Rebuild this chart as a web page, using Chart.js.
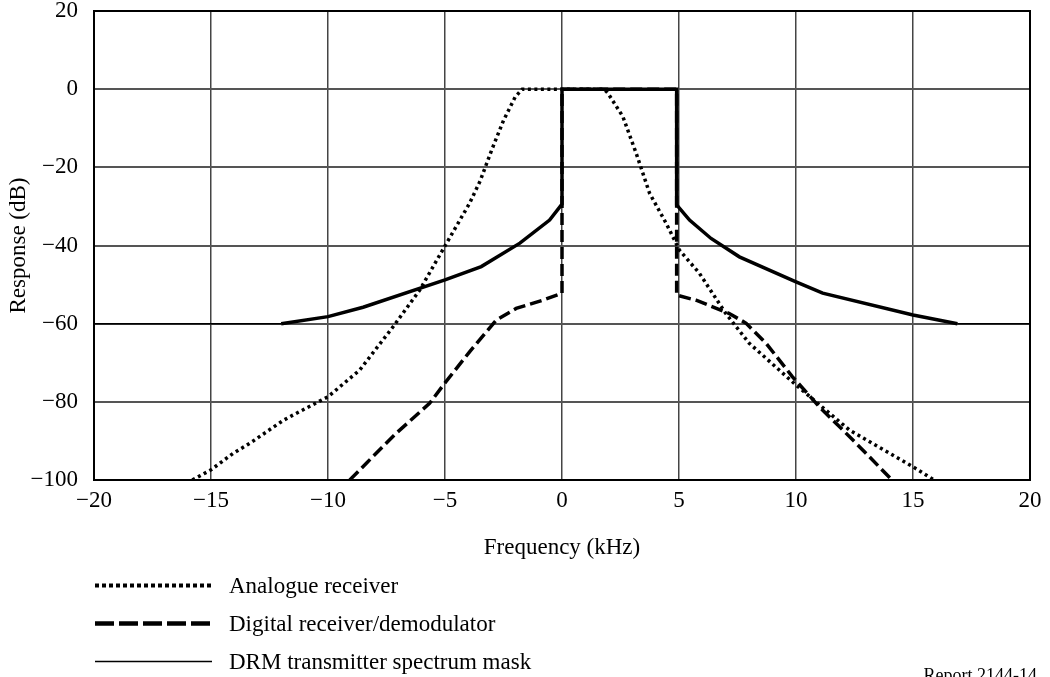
<!DOCTYPE html>
<html><head><meta charset="utf-8">
<script src="https://cdn.jsdelivr.net/npm/chart.js@4.4.1/dist/chart.umd.min.js"></script>
<style>html,body{margin:0;padding:0;background:#fff;overflow:hidden}</style>
</head><body>
<canvas id="c" width="1050" height="677" style="width:1050px;height:677px;display:block"></canvas>
<script>
// ---- data ----
const seriesLabels = ['Analogue receiver', 'Digital receiver/demodulator', 'DRM transmitter spectrum mask'];

const analogueFreq = [-15.8, -15, -14.06, -13.34, -11.9, -11.5, -10, -8.65, -7.22, -6.08, -5.02, -3.95, -3.5, -3.0, -2.5, -2.0, -1.7, 1.8, 1.96, 2.6, 3.17, 3.74, 4.45, 5.02, 5.87, 7.0, 8.0, 10, 12.28, 15.1, 15.9];
const analogueDb   = [-100, -97.4, -93.2, -90.6, -84.7, -83.4, -78.7, -71.9, -60.8, -51.4, -40.3, -29.2, -23.5, -15.5, -8, -2, 0, 0, -1, -7, -16.4, -26.6, -34.3, -41.2, -47.1, -57.4, -65, -75.7, -87.2, -97, -100];

const digitalFreq = [-9.07, -8.36, -7.08, -5.66, -5.02, -3.95, -2.81, -1.96, -0.82, 0, 0, 4.9, 4.9, 5.73, 7.15, 7.87, 8.72, 9.85, 11.0, 12.0, 13.0, 14.1];
const digitalDb   = [-100, -95.7, -88, -80.4, -75.3, -67.2, -59.1, -56.1, -54, -52.2, 0, 0, -52.7, -54, -57.4, -59.9, -65, -73.6, -81.3, -87.2, -93.2, -100];

const maskFreq = [-20, -12, -10, -8.5, -5, -3.45, -1.8, -0.53, 0, 0, 4.9, 4.9, 5.45, 6.37, 7.58, 10, 11.14, 15, 16.9, 20];
const maskDb   = [-60, -60, -58.2, -55.8, -48.8, -45.4, -39.4, -33.5, -29.4, 0, 0, -29.6, -33.5, -38.2, -42.9, -49.3, -52.2, -57.8, -60, -60];

const freqTicks = [-20, -15, -10, -5, 0, 5, 10, 15, 20];
const dbTicks = [-100, -80, -60, -40, -20, 0, 20];
const xTitle = 'Frequency (kHz)';
const yTitle = 'Response (dB)';
const reportLabel = 'Report 2144-14';

// ---- build ----
const pts = (xs, ys) => xs.map((x, i) => ({x, y: ys[i]}));
const FONT = "'Liberation Serif', 'Times New Roman', serif";
const FS = 23;
const minus = v => String(v).replace('-', '\u2212');

const legendPlugin = {
  id: 'customLegend',
  afterDraw(chart) {
    const ctx = chart.ctx;
    const lineY = [585.5, 623.5, 661.5];
    chart.data.datasets.forEach((ds, i) => {
      ctx.save();
      ctx.strokeStyle = '#000';
      ctx.lineWidth = ds.legendWidth;
      ctx.setLineDash(ds.legendDash || []);
      ctx.beginPath();
      ctx.moveTo(95, lineY[i]);
      ctx.lineTo(212, lineY[i]);
      ctx.stroke();
      ctx.setLineDash([]);
      ctx.fillStyle = '#000';
      ctx.font = FS + 'px ' + FONT;
      ctx.textBaseline = 'middle';
      ctx.textAlign = 'left';
      ctx.fillText(ds.label, 229, lineY[i] + 1);
      ctx.restore();
    });
    ctx.save();
    ctx.fillStyle = '#000';
    ctx.font = '18px ' + FONT;
    ctx.textAlign = 'right';
    ctx.textBaseline = 'alphabetic';
    ctx.fillText(reportLabel, 1037, 681);
    ctx.restore();
  }
};

const framePlugin = {
  id: 'frame',
  beforeDatasetsDraw(chart) {
    const {left, right, top, bottom} = chart.chartArea;
    const ctx = chart.ctx;
    ctx.save();
    ctx.strokeStyle = '#000';
    ctx.lineWidth = 2;
    ctx.strokeRect(left, top, right - left, bottom - top);
    ctx.restore();
  }
};

new Chart(document.getElementById('c'), {
  type: 'line',
  data: {
    datasets: [
      {label: seriesLabels[0], data: pts(analogueFreq, analogueDb), borderColor: '#000', borderWidth: 3.5, borderDash: [3, 3.5], pointRadius: 0, tension: 0, fill: false, legendDash: [4, 3], legendWidth: 4},
      {label: seriesLabels[1], data: pts(digitalFreq, digitalDb), borderColor: '#000', borderWidth: 3.5, borderDash: [12, 5], pointRadius: 0, tension: 0, fill: false, legendDash: [19, 5], legendWidth: 4.5},
      {label: seriesLabels[2], data: pts(maskFreq, maskDb), borderColor: '#000', borderWidth: 3.5,
        segment: {borderWidth: c => (c.p0.parsed.y === -60 && c.p1.parsed.y === -60) ? 1.5 : 3.5},
        pointRadius: 0, tension: 0, fill: false, legendWidth: 1.5}
    ]
  },
  options: {
    responsive: false,
    animation: false,
    devicePixelRatio: 1,
    layout: {padding: {top: 11, right: 20, bottom: 115, left: 0}},
    plugins: {legend: {display: false}, tooltip: {enabled: false}},
    scales: {
      x: {
        type: 'linear', min: -20, max: 20,
        afterBuildTicks: s => { s.ticks = freqTicks.map(v => ({value: v})); },
        afterFit: s => { s.height = 82; s.paddingLeft = 0; s.paddingRight = 0; },
        ticks: {color: '#000', padding: 7, font: {family: FONT, size: FS}, callback: v => minus(v), maxRotation: 0},
        grid: {color: '#444', lineWidth: 1.5, drawTicks: false},
        border: {color: '#000', width: 2},
        title: {display: true, text: xTitle, color: '#000', font: {family: FONT, size: FS}, padding: 0}
      },
      y: {
        min: -100, max: 20,
        afterBuildTicks: s => { s.ticks = dbTicks.map(v => ({value: v})); },
        afterFit: s => { s.width = 94; s.paddingTop = 0; s.paddingBottom = 0; },
        ticks: {color: '#000', padding: 16, font: {family: FONT, size: FS}, callback: v => minus(v)},
        grid: {color: '#555', lineWidth: 2, drawTicks: false},
        border: {color: '#000', width: 2},
        title: {display: true, text: yTitle, color: '#000', font: {family: FONT, size: FS}, padding: {top: 5, bottom: 0}}
      }
    }
  },
  plugins: [framePlugin, legendPlugin]
});
</script>
</body></html>
